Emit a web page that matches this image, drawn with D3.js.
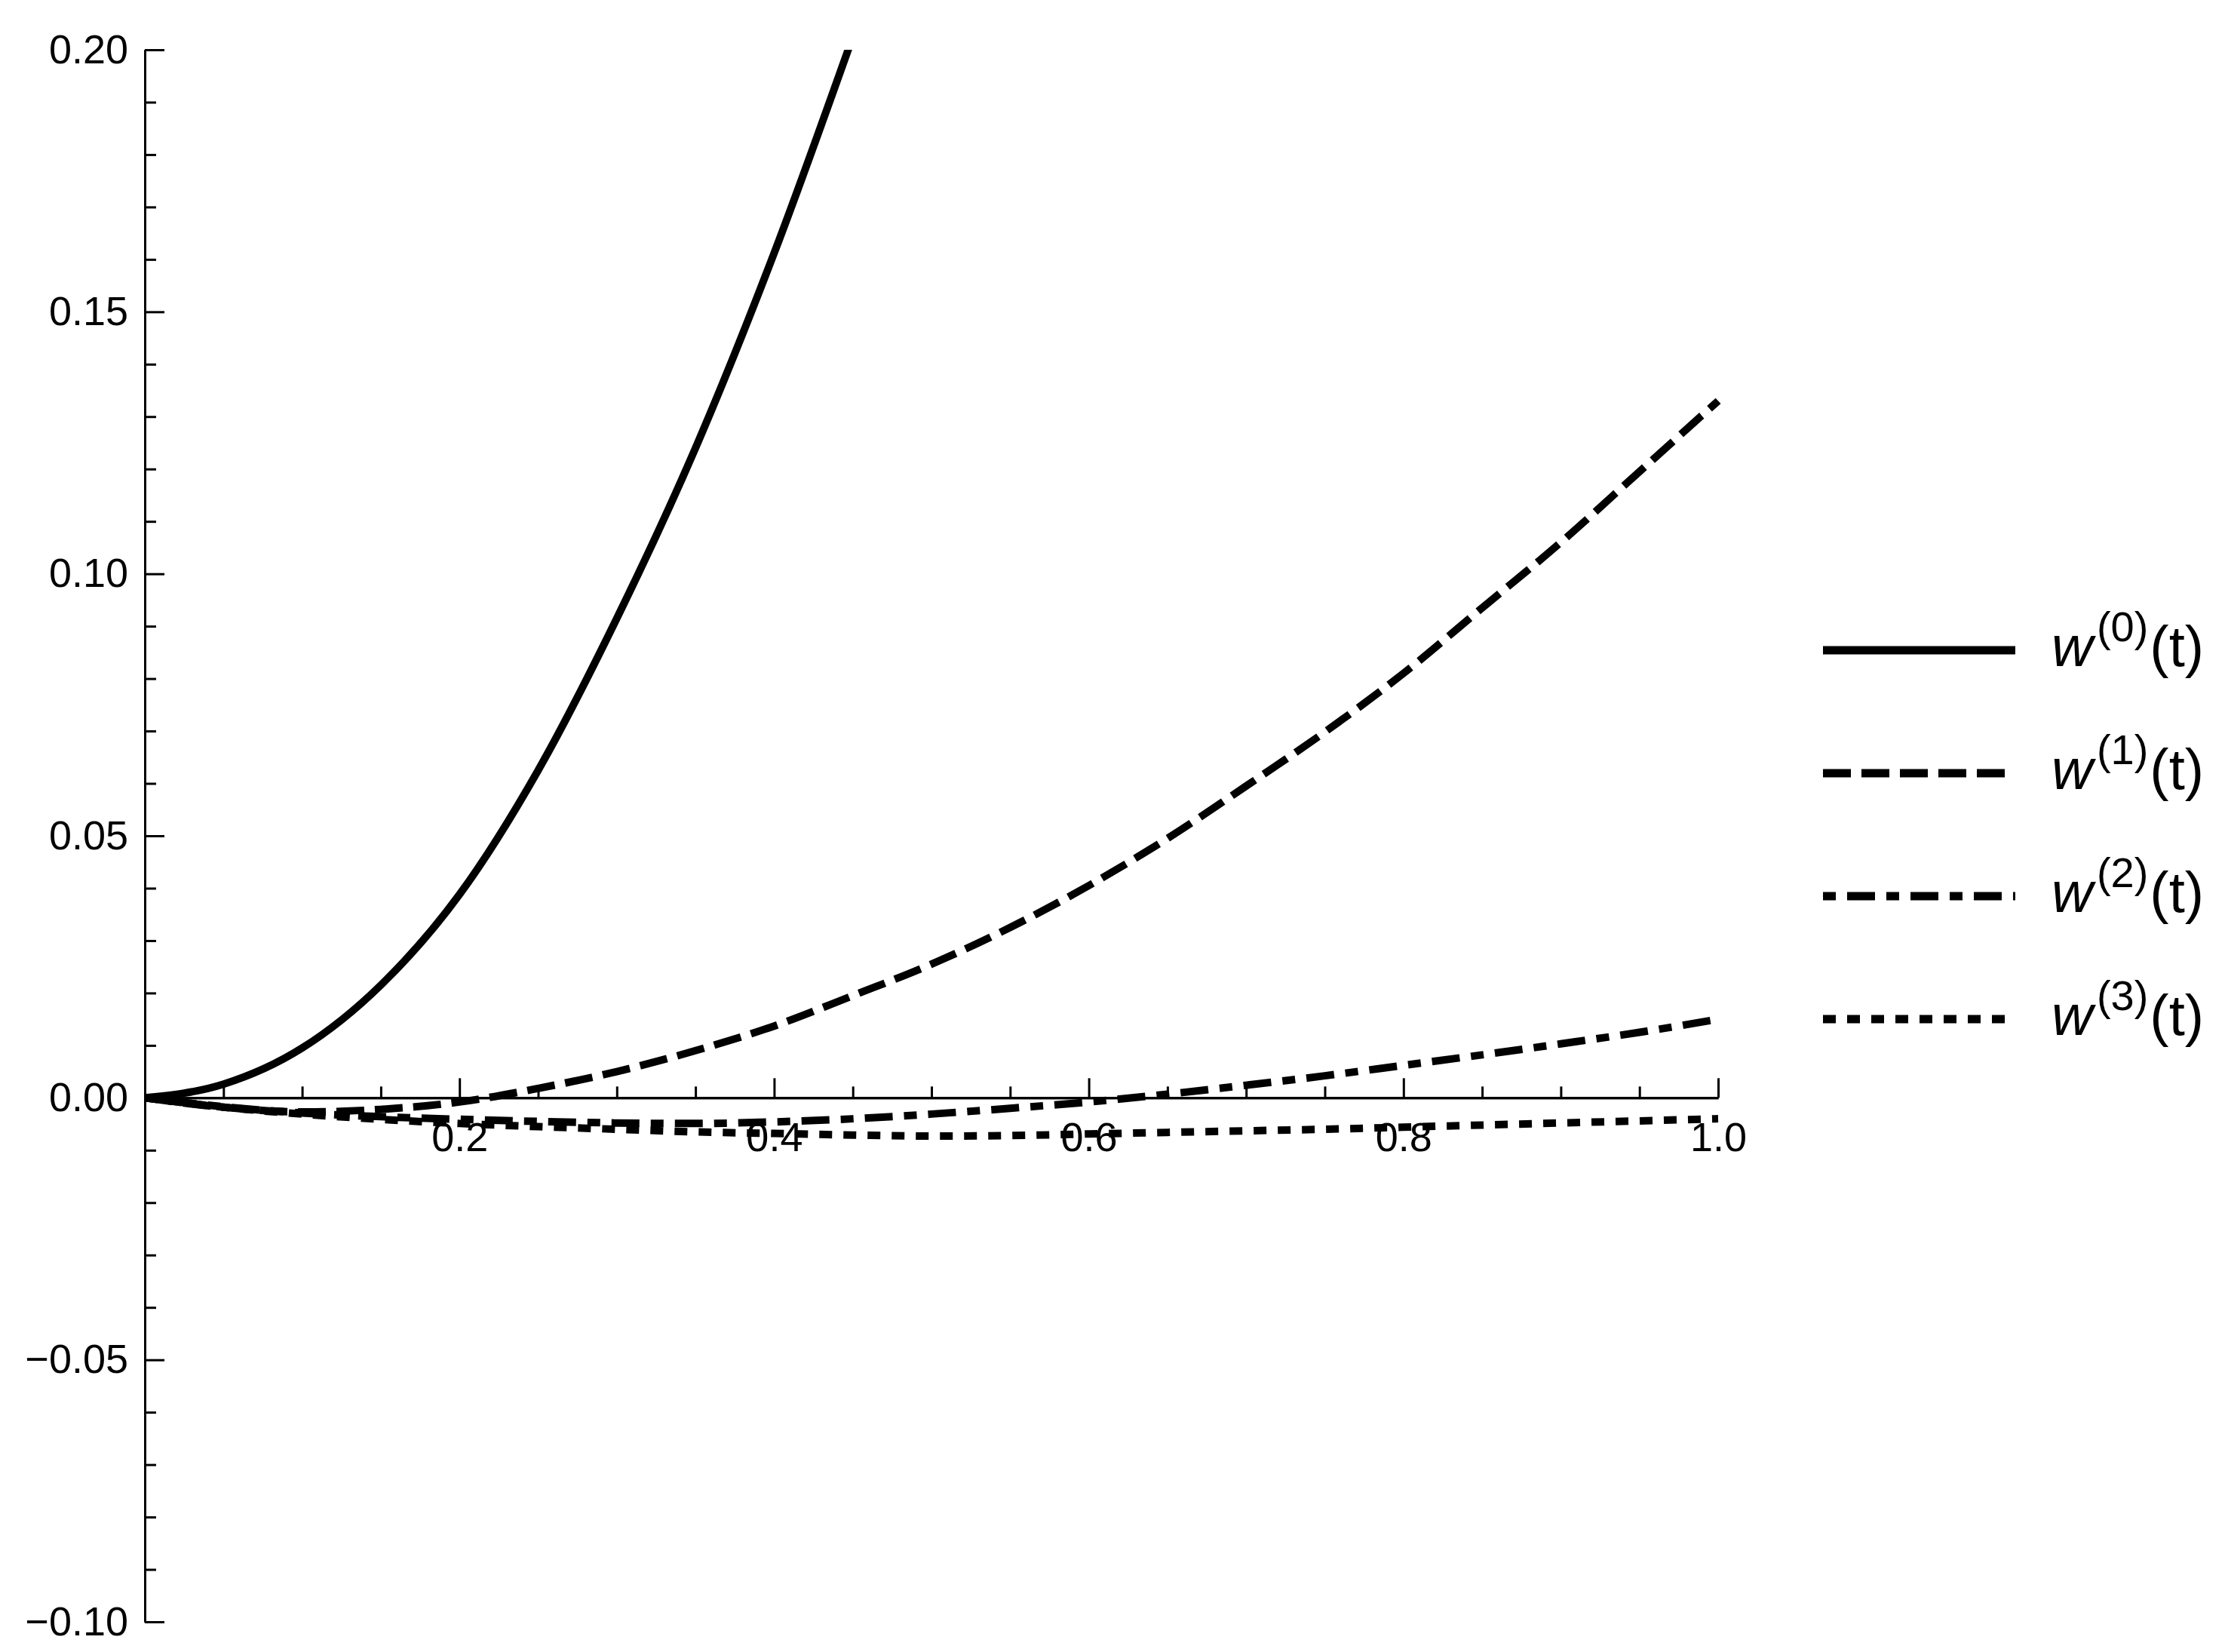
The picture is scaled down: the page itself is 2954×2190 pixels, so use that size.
<!DOCTYPE html>
<html>
<head>
<meta charset="utf-8">
<script src="https://cdn.jsdelivr.net/npm/d3@7"></script>
<style>
  body { margin: 0; background: #fff; }
  text { font-family: "Liberation Sans", Arial, sans-serif; }
</style>
</head>
<body>
<svg id="chart" width="2954" height="2190"></svg>
<script>
// values
const tAll = [0, 0.05, 0.1, 0.15, 0.2, 0.25, 0.3, 0.35, 0.4, 0.45, 0.5,
              0.55, 0.6, 0.65, 0.7, 0.75, 0.8, 0.85, 0.9, 0.95, 1.0];
const tW0 = [0, 0.05, 0.1, 0.15, 0.2, 0.25, 0.3, 0.35, 0.4, 0.45];

const w0 = [0, 0.0026, 0.0095, 0.0215, 0.0388, 0.0625, 0.0915, 0.124, 0.1612, 0.2025];
const w1 = [0, -0.0018, -0.0027, -0.0022, -0.0008, 0.0018, 0.005, 0.009, 0.0137, 0.0195, 0.0255,
            0.0325, 0.0405, 0.0495, 0.0595, 0.0698, 0.081, 0.0935, 0.106, 0.1195, 0.133];
const w2 = [0, -0.0017, -0.0029, -0.0036, -0.0041, -0.0045, -0.0048, -0.0049, -0.0046, -0.004, -0.0031,
            -0.002, -0.0008, 0.0007, 0.0024, 0.0042, 0.0062, 0.0082, 0.0103, 0.0125, 0.015];
const w3 = [0, -0.0018, -0.0031, -0.0041, -0.0049, -0.0055, -0.006, -0.0065, -0.0068, -0.0071, -0.0073,
            -0.0072, -0.0069, -0.0066, -0.0063, -0.006, -0.0056, -0.0052, -0.0048, -0.0044, -0.004];

const seriesNames = ["(0)", "(1)", "(2)", "(3)"];
const dashStyles = ["none", "37,14", "17,15,37,15", "17,15"];

const xTicks = [0.2, 0.4, 0.6, 0.8, 1.0];
const yTicks = [-0.10, -0.05, 0.00, 0.05, 0.10, 0.15, 0.20];

const svg = d3.select("#chart");

const x = d3.scaleLinear().domain([0, 1]).range([192, 2278]);
const y = d3.scaleLinear().domain([-0.1, 0.2]).range([2150, 66]);

const xMinor = d3.range(1, 21).map(i => i * 0.05).filter(v => Math.abs(v * 5 - Math.round(v * 5)) > 1e-6);
const yMinor = d3.range(-10, 21).map(i => i * 0.01).filter(v => Math.abs(v * 20 - Math.round(v * 20)) > 1e-6);

function styleAxis(g) {
    g.selectAll("path, line").attr("stroke", "#000").attr("stroke-width", 3);
    g.selectAll("text").attr("font-size", 54).attr("fill", "#000")
        .attr("font-family", "'Liberation Sans', Arial, sans-serif");
}

// minor ticks
svg.append("g")
    .attr("transform", `translate(0,${y(0)})`)
    .call(d3.axisBottom(x).tickValues(xMinor).tickFormat("").tickSizeInner(-15).tickSizeOuter(0))
    .call(styleAxis);
svg.append("g")
    .attr("transform", `translate(${x(0)},0)`)
    .call(d3.axisLeft(y).tickValues(yMinor).tickFormat("").tickSizeInner(-15).tickSizeOuter(0))
    .call(styleAxis);

// major ticks + labels
svg.append("g")
    .attr("transform", `translate(0,${y(0)})`)
    .call(d3.axisBottom(x).tickValues(xTicks).tickFormat(d3.format(".1f"))
        .tickSizeInner(-26).tickSizeOuter(0).tickPadding(32))
    .call(styleAxis);
svg.append("g")
    .attr("transform", `translate(${x(0)},0)`)
    .call(d3.axisLeft(y).tickValues(yTicks).tickFormat(d3.format(".2f"))
        .tickSizeInner(-26).tickSizeOuter(0).tickPadding(22))
    .call(styleAxis);

svg.append("clipPath").attr("id", "plotClip")
    .append("rect")
    .attr("x", x(0) - 10).attr("y", y(0.2))
    .attr("width", x(1) - x(0) + 20).attr("height", y(-0.1) - y(0.2));

const line = d3.line()
    .x(d => x(d[0]))
    .y(d => y(d[1]))
    .curve(d3.curveMonotoneX);

const series = [
    tW0.map((t, i) => [t, w0[i]]),
    tAll.map((t, i) => [t, w1[i]]),
    tAll.map((t, i) => [t, w2[i]]),
    tAll.map((t, i) => [t, w3[i]])
];

svg.append("g")
    .attr("clip-path", "url(#plotClip)")
    .selectAll("path")
    .data(series)
    .join("path")
    .attr("d", line)
    .attr("fill", "none")
    .attr("stroke", "#000")
    .attr("stroke-width", 10)
    .attr("stroke-dasharray", (d, i) => dashStyles[i]);

// legend
const legend = svg.append("g");
const legendY = d3.scaleLinear().domain([0, 3]).range([862, 1351]);

legend.selectAll("line")
    .data(seriesNames)
    .join("line")
    .attr("x1", 2417).attr("x2", 2672)
    .attr("y1", (d, i) => legendY(i)).attr("y2", (d, i) => legendY(i))
    .attr("stroke", "#000")
    .attr("stroke-width", 11)
    .attr("stroke-dasharray", (d, i) => dashStyles[i]);

const labels = legend.selectAll("text")
    .data(seriesNames)
    .join("text")
    .attr("x", 2720)
    .attr("y", (d, i) => legendY(i) + 21)
    .attr("font-size", 76)
    .attr("fill", "#000");

labels.append("tspan").attr("font-style", "italic").text("w");
labels.append("tspan").attr("font-size", 56).attr("dx", 5).attr("dy", -33).text(d => d);
labels.append("tspan").attr("dx", 2).attr("dy", 33).text("(t)");
</script>
</body>
</html>
